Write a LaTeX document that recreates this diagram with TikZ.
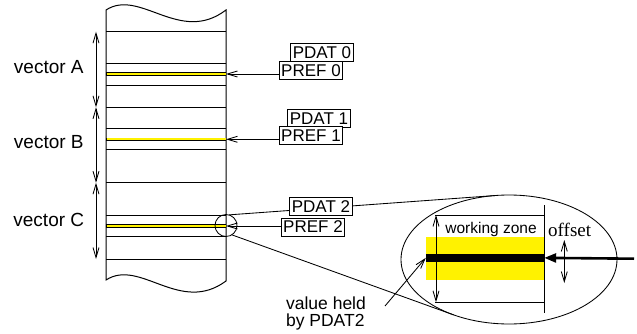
\documentclass[tikz,border=0pt]{standalone}
\usepackage{fontspec}
\setmainfont{Liberation Serif}
\setsansfont{Liberation Sans}
\usetikzlibrary{arrows.meta,shapes.geometric}
\begin{document}
\begin{tikzpicture}[x=1pt,y=-1pt,
  col/.style={line width=1pt},
  thinline/.style={line width=0.85pt},
  barb/.style={line width=0.85pt,-{Straight Barb[length=10pt,width=6pt]}},
  dbl/.style={line width=0.85pt,{Straight Barb[length=10pt,width=6pt]}-{Straight Barb[length=10pt,width=6pt]}},
  tag/.style={draw,fill=white,line width=0.85pt,font=\sffamily\fontsize{17}{17}\selectfont,
    inner xsep=2pt,inner ysep=0pt,minimum height=18pt},
  vlabel/.style={font=\sffamily\fontsize{19}{19}\selectfont,anchor=base,inner sep=0pt},
  hilite/.style={line cap=butt}
]
\useasboundingbox (0,0) rectangle (637,334);

% memory column with torn top and bottom edges
\draw[col] (106,10) .. controls (140,-12) and (180,45) .. (226,10)
  -- (226,281) .. controls (180,315) and (140,258) .. (106,280) -- cycle;
\foreach \y in {31.7,63.3,85.7,107.3,129,150,182.7,215.7,236.7,259}
  \draw[col] (106,\y) -- (226,\y);

% highlighted reference lines
\foreach \y/\n in {74/ya,139.3/yb,226/yc}{
  \draw[hilite,line width=3.4pt] (106,\y) -- (226,\y);
  \draw[hilite,yellow,line width=1.8pt] (106.5,\y) -- (225.5,\y);
  \coordinate (\n) at (226,\y);
}

% vector extents
\coordinate (m0) at (96,31.7);
\coordinate (m1) at (96,107.3);
\coordinate (m2) at (96,182.7);
\coordinate (m3) at (96,259);
\draw[dbl] (m0) -- (m1);
\draw[dbl] (m1) -- (m2);
\draw[dbl] (m2) -- (m3);
\node[vlabel] (la) at (48.8,73.3) {vector A};
\node[vlabel] (lb) at (48.8,148.3) {vector B};
\node[vlabel] (lc) at (48.8,226.7) {vector C};

% magnified detail
\node[draw,ellipse,thinline,minimum width=216pt,minimum height=129pt,inner sep=0pt,outer sep=0pt]
  (lens) at (509,259.5) {};
\node[circle,draw,thinline,minimum size=22pt,inner sep=0pt,outer sep=0pt] (spot) at (226,225.5) {};
\draw[thinline] (spot.75) -- (lens.101);
\draw[thinline] (spot.-58) -- (lens.225);

\node[fill=yellow,minimum width=118pt,minimum height=42.7pt,inner sep=0pt] (band) at (485,258.65) {};
\node[fill=black,minimum width=118pt,minimum height=7.7pt,inner sep=0pt] (bar) at (485,257.85) {};
\draw[thinline] (435,215) -- (544,215);
\draw[thinline] (435,302.3) -- (544,302.3);
\draw[thinline] (544,205) -- (544,313);
\coordinate (wt) at (436,215);
\coordinate (wb) at (436,302.3);
\draw[dbl] (wt) -- (wb);
\node[font=\sffamily\fontsize{15.5}{15.5}\selectfont,anchor=base,inner sep=0pt] (wz) at (491,233) {working zone};
\node[font=\rmfamily\fontsize{19}{19}\selectfont,anchor=base,inner sep=0pt] (off) at (569.7,236.7) {offset};
\coordinate (ot) at (564.3,240);
\coordinate (ob) at (564.3,283);
\draw[dbl] (ot) -- (ob);
\coordinate (feed) at (634,258.7);
\draw[line width=2.6pt,-{Triangle[length=12pt,width=9pt]}] (feed) -- (bar.east);

\node[font=\sffamily\fontsize{17.5}{16.5}\selectfont,align=left,inner sep=0pt] (held) at (326,313.5)
  {value held\\by PDAT2};
\coordinate (hs) at (385,306);
\draw[barb] (hs) -- (bar.west);

% pointer / data tags
\node[tag] (pdat0) at (322,52.5) {PDAT 0};
\node[tag] (pref0) at (311,70.7) {PREF 0};
\node[tag] (pdat1) at (319,118.3) {PDAT 1};
\node[tag] (pref1) at (311,135.8) {PREF 1};
\node[tag] (pdat2) at (321,206.5) {PDAT 2};
\node[tag] (pref2) at (313,227) {PREF 2};
\draw[barb] (pref0.west |- ya) -- (ya);
\draw[barb] (pref1.west |- yb) -- (yb);
\draw[barb] (pref2.west |- yc) -- (yc);
\end{tikzpicture}
\end{document}
